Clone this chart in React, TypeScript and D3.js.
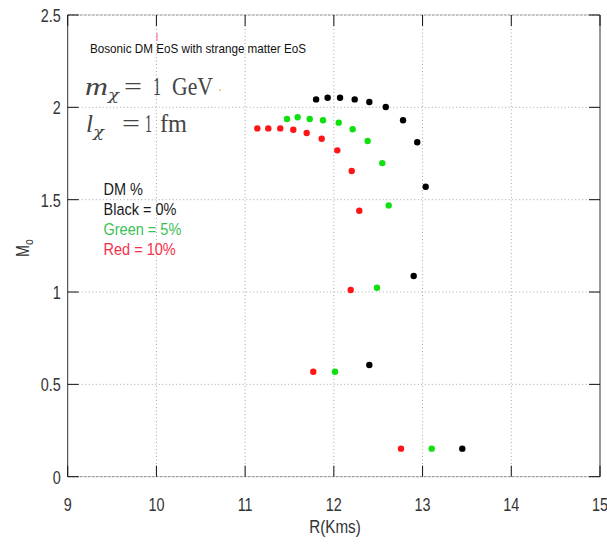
import React from "react";
import * as d3 from "d3";

// ---- data ----
const xTicks = [9, 10, 11, 12, 13, 14, 15];
const yTicks = [0, 0.5, 1, 1.5, 2, 2.5];
const yTickLabels = ["0", "0.5", "1", "1.5", "2", "2.5"];

const blackR = [11.8, 11.93, 12.07, 12.235, 12.4, 12.585, 12.78, 12.94, 13.035, 12.9, 12.4, 13.448];
const blackM = [2.043, 2.052, 2.052, 2.043, 2.029, 2.002, 1.93, 1.811, 1.57, 1.087, 0.605, 0.152];

const greenR = [11.472, 11.592, 11.728, 11.878, 12.055, 12.212, 12.381, 12.546, 12.618, 12.486, 12.013, 13.103];
const greenM = [1.937, 1.946, 1.937, 1.93, 1.917, 1.881, 1.818, 1.698, 1.469, 1.023, 0.568, 0.152];

const redR = [11.137, 11.261, 11.396, 11.543, 11.694, 11.863, 12.039, 12.201, 12.287, 12.19, 11.768, 12.757];
const redM = [1.886, 1.886, 1.886, 1.879, 1.861, 1.83, 1.767, 1.655, 1.44, 1.011, 0.568, 0.152];

const seriesNames = ["black", "green", "red"];
const seriesColors = ["#000000", "#10e010", "#ff1515"];
const legendLines = ["DM %", "Black = 0%", "Green = 5%", "Red = 10%"];
const legendColors = ["#1a1a1a", "#1a1a1a", "#3cbf55", "#f5304a"];
const titleText = "Bosonic DM EoS with strange matter EoS";

export default function App() {
  const W = 607, H = 544;
  const left = 67.7, right = 600, top = 15, bottom = 476.7;
  const x = d3.scaleLinear().domain([9, 15]).range([left, right]);
  const y = d3.scaleLinear().domain([0, 2.5]).range([bottom, top]);

  const series = [
    { r: blackR, m: blackM },
    { r: greenR, m: greenM },
    { r: redR, m: redM },
  ];

  const narrow = 0.8;
  const tickLen = 11;
  const labelFont = "'Liberation Sans', Arial, sans-serif";
  const mathFont = "'Liberation Serif', 'DejaVu Serif', serif";
  const chiFont = "'DejaVu Serif', serif";
  const mathColor = "#444";

  return (
    <svg width={W} height={H} style={{ position: "absolute", left: 0, top: 0, background: "#fff" }}>
      <rect x={0} y={0} width={W} height={H} fill="#fff" />
      {/* grid */}
      {xTicks.slice(1, -1).map((t) => (
        <line key={"gx" + t} x1={x(t)} x2={x(t)} y1={top} y2={bottom} stroke="#a8a8a8" strokeWidth={1} strokeDasharray="1,2.5" />
      ))}
      {yTicks.slice(1, -1).map((t) => (
        <line key={"gy" + t} x1={left} x2={right} y1={y(t)} y2={y(t)} stroke="#a8a8a8" strokeWidth={1} strokeDasharray="1,2.5" />
      ))}
      {/* frame */}
      <line x1={left} x2={right} y1={top} y2={top} stroke="#8a8a8a" strokeWidth={1} strokeDasharray="3,1" />
      <line x1={left} x2={right} y1={bottom} y2={bottom} stroke="#8a8a8a" strokeWidth={1} strokeDasharray="3,1" />
      <line x1={left} x2={left} y1={top} y2={bottom} stroke="#333" strokeWidth={1} />
      <line x1={right} x2={right} y1={top} y2={bottom} stroke="#333" strokeWidth={1} />
      {/* ticks */}
      {xTicks.map((t) => (
        <g key={"tx" + t}>
          <line x1={x(t)} x2={x(t)} y1={bottom} y2={bottom - tickLen} stroke="#111" strokeWidth={1} />
          <line x1={x(t)} x2={x(t)} y1={top} y2={top + tickLen} stroke="#111" strokeWidth={1} />
          <text
            transform={`translate(${x(t)},${bottom + 34}) scale(${narrow},1)`}
            textAnchor="middle"
            fontFamily={labelFont}
            fontSize={18}
            fill="#333"
          >
            {String(t)}
          </text>
        </g>
      ))}
      {yTicks.map((t, i) => (
        <g key={"ty" + t}>
          <line x1={left} x2={left + tickLen} y1={y(t)} y2={y(t)} stroke="#111" strokeWidth={1} />
          <line x1={right} x2={right - tickLen} y1={y(t)} y2={y(t)} stroke="#111" strokeWidth={1} />
          <text
            transform={`translate(${left - 7},${y(t) + 7}) scale(${narrow},1)`}
            textAnchor="end"
            fontFamily={labelFont}
            fontSize={18}
            fill="#333"
          >
            {yTickLabels[i]}
          </text>
        </g>
      ))}
      {/* axis titles */}
      <text transform={`translate(335,533) scale(${narrow},1)`} textAnchor="middle" fontFamily={labelFont} fontSize={19} fill="#333">
        R(Kms)
      </text>
      <text transform={`translate(29,248) rotate(-90) scale(${narrow},1)`} textAnchor="middle" fontFamily={labelFont} fontSize={18} fill="#333">
        M<tspan fontSize={13} dy={4}>o</tspan>
      </text>
      {/* title */}
      <text x={90} y={52.5} fontFamily={labelFont} fontSize={13} fill="#111" textLength={216} lengthAdjust="spacingAndGlyphs">
        {titleText}
      </text>
      {/* small stray marks in the source image */}
      <line x1={157} x2={157} y1={33} y2={41} stroke="#f06080" strokeWidth={1} />
      <circle cx={220} cy={90} r={0.9} fill="#f0b070" />
      {/* math annotation */}
      <g fontFamily={mathFont} fill={mathColor} fontSize={25}>
        <text x={85} y={95} fontStyle="italic" textLength={23} lengthAdjust="spacingAndGlyphs">m</text>
        <text x={108} y={100} fontFamily={chiFont} fontStyle="italic" fontSize={15} textLength={11} lengthAdjust="spacingAndGlyphs">χ</text>
        <text x={124} y={95} textLength={18} lengthAdjust="spacingAndGlyphs">=</text>
        <text x={153} y={95} textLength={8} lengthAdjust="spacingAndGlyphs">1</text>
        <text x={172} y={95} textLength={41} lengthAdjust="spacingAndGlyphs">GeV</text>

        <text x={86} y={132} fontStyle="italic" textLength={7} lengthAdjust="spacingAndGlyphs">l</text>
        <text x={93} y={137} fontFamily={chiFont} fontStyle="italic" fontSize={15} textLength={11} lengthAdjust="spacingAndGlyphs">χ</text>
        <text x={122} y={132} textLength={18} lengthAdjust="spacingAndGlyphs">=</text>
        <text x={145} y={132} textLength={7} lengthAdjust="spacingAndGlyphs">1</text>
        <text x={160} y={132} textLength={27} lengthAdjust="spacingAndGlyphs">fm</text>
      </g>
      {/* legend text */}
      {legendLines.map((s, i) => (
        <text
          key={s}
          transform={`translate(103.5,${195 + i * 20}) scale(0.88,1)`}
          fontFamily={labelFont}
          fontSize={16.5}
          fill={legendColors[i]}
        >
          {s}
        </text>
      ))}
      {/* points */}
      {series.map((s, si) => (
        <g key={seriesNames[si]} fill={seriesColors[si]}>
          {s.r.map((rv, i) => (
            <circle key={i} cx={x(rv)} cy={y(s.m[i])} r={3.2} />
          ))}
        </g>
      ))}
    </svg>
  );
}
